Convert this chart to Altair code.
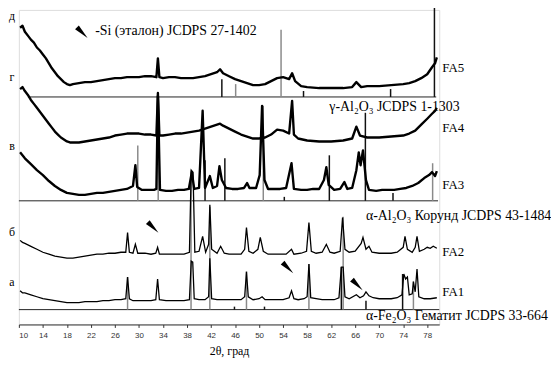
import altair as alt
import pandas as pd

# ---------------- data: diffraction traces (2θ, relative intensity) ----------------
fa5_theta = [10.2, 10.6, 11, 11.5, 12, 12.5, 13, 13.5, 14, 14.5, 15, 15.5, 16, 16.5, 17, 17.5, 18, 18.5, 19, 20,
             21, 22, 23, 24, 25, 26, 27, 28, 29, 30, 31, 32, 32.9, 33.15, 33.4, 34, 35, 36, 37, 38, 39, 40, 41, 42,
             43, 43.5, 44, 45, 46, 47, 48, 49, 50, 51, 52, 53, 54, 55, 55.5, 56, 57, 58, 60, 62, 64, 65.5, 66.2, 67,
             68, 70, 72, 74, 75, 76, 77, 78, 78.8, 79.3, 79.6]
fa5_int = [64, 66, 60, 56, 52, 49, 44, 41, 37, 33, 28, 23, 19, 15, 12, 9, 7, 6, 7, 8,
           9, 9, 10, 11, 12, 13, 13, 14, 14, 14, 15, 15, 14, 33, 14, 13, 14, 14, 13, 13, 13, 14, 15, 17,
           19, 22, 18, 15, 12, 10, 8, 6, 6, 7, 10, 13, 14, 12, 18, 10, 5, 4, 3, 3, 3, 4, 9, 4,
           5, 5, 6, 7, 8, 10, 13, 17, 24, 28, 34]

fa4_theta = [10.2, 10.6, 11, 11.5, 12, 12.5, 13, 13.5, 14, 14.5, 15, 15.5, 16, 16.5, 17, 17.5, 18, 18.5, 19, 20,
             21, 22, 23, 24, 25, 26, 27, 28, 29, 30, 31, 32, 32.9, 33.15, 33.4, 34, 35, 36, 37, 38, 39, 40, 41, 42,
             43, 43.5, 44, 45, 46, 47, 48, 49, 50, 51, 52, 53, 54, 55, 55.5, 55.8, 56.5, 58, 60, 62, 64, 65.5, 66.2,
             66.8, 68, 70, 72, 74, 75, 76, 77, 78, 78.8, 79.3, 79.6]
fa4_int = [57, 59, 55, 51, 46, 42, 38, 34, 30, 26, 22, 18, 14, 11, 8, 6, 4, 3, 3, 3,
           4, 5, 6, 7, 8, 10, 11, 12, 12, 12, 11, 11, 10, 53, 10, 10, 11, 12, 12, 13, 14, 15, 17, 19,
           21, 22, 20, 17, 14, 11, 9, 7, 7, 8, 11, 16, 15, 12, 45, 11, 7, 5, 4, 4, 5, 7, 19,
           10, 8, 8, 9, 10, 12, 15, 21, 27, 32, 35, 38]

fa3_theta = [10.2, 10.6, 11, 12, 13, 14, 15, 16, 17, 18, 19, 20, 21, 22, 23, 24, 25, 26, 27, 28, 29, 29.4, 29.7,
             30.5, 31.5, 32.5, 32.9, 33.15, 33.5, 34.5, 35.5, 36.5, 37.5, 38.3, 38.8, 39.2, 40, 40.6, 41, 41.8, 42.3,
             43, 43.4, 43.8, 44.5, 45.5, 46.5, 47.5, 48, 48.4, 49.5, 50.1, 50.5, 50.9, 51.5, 52.5, 53.5, 54.5, 55.4,
             55.8, 57, 58, 59, 60, 60.8, 61.2, 61.6, 62.5, 63.5, 64.2, 64.7, 65.5, 66.2, 66.6, 66.9, 67.3, 67.8, 68.3,
             69.5, 70.5, 71.5, 72.5, 73.5, 74.5, 75.5, 76.5, 77.5, 78.3, 78.8, 79.3, 79.6]
fa3_int = [45, 42, 39, 33, 27, 22, 16, 11, 7, 4, 3, 2, 2, 3, 4, 4, 5, 6, 7, 8, 11, 32, 10,
           7, 7, 7, 8, 102, 7, 6, 6, 7, 7, 8, 25, 8, 9, 87, 9, 21, 9,
           11, 31, 17, 9, 8, 8, 9, 14, 9, 9, 22, 92, 17, 8, 8, 8, 9, 34,
           8, 7, 7, 8, 8, 17, 30, 12, 7, 8, 15, 8, 9, 27, 45, 32, 47, 17, 7,
           6, 7, 7, 7, 8, 9, 11, 14, 19, 22, 25, 21, 26]

fa2_theta = [10.2, 10.6, 11, 12, 13, 14, 15, 16, 17, 18, 19, 20, 21, 22, 23, 24, 25, 26, 27, 27.8, 28.1, 28.4,
             29, 29.4, 29.8, 31, 32, 32.8, 33.1, 33.4, 34.5, 35.5, 36.5, 37.5, 38.4, 38.7, 39.0, 39.3, 40, 40.6,
             41.1, 41.6, 41.8, 42.1, 43, 43.6, 44.2, 45, 46, 47, 47.6, 47.9, 48.3, 49, 49.8, 50.2, 50.7, 51.5, 52.5,
             53.5, 54.5, 55.4, 55.8, 57, 57.9, 58.3, 58.7, 59.5, 60.5, 61.2, 61.8, 62.5, 63.5, 63.9, 64.3, 65, 66,
             67, 67.3, 67.8, 68.3, 68.8, 70, 71, 72, 73, 74, 74.3, 74.7, 75.5, 76.0, 76.3, 76.7, 77.5, 78, 78.5,
             79, 79.6]
fa2_int = [19, 17, 16, 13, 10, 7, 5, 3, 2, 1, 1, 2, 3, 4, 5, 5, 6, 6, 7, 7, 27, 7,
           6, 15, 6, 6, 5, 6, 12, 5, 5, 5, 5, 5, 7, 90, 88, 7, 8, 23,
           7, 15, 55, 10, 6, 13, 6, 5, 5, 5, 10, 32, 8, 6, 10, 22, 8, 5, 5,
           5, 5, 10, 5, 6, 8, 37, 8, 6, 7, 15, 7, 6, 8, 42, 10, 7, 8,
           16, 22, 10, 13, 7, 6, 6, 6, 7, 12, 23, 10, 7, 12, 23, 8, 10, 12, 11,
           13, 11]

fa1_theta = [10.2, 10.6, 11, 12, 13, 14, 15, 16, 17, 18, 19, 20, 21, 22, 23, 24, 25, 26, 27, 27.8, 28.1, 28.4,
             29, 30, 31, 32, 32.8, 33.1, 33.4, 34.5, 35.5, 36.5, 37.5, 38.4, 38.7, 38.95, 39.2, 40, 41, 41.6, 41.8,
             42.1, 43, 44, 45, 46, 47, 47.6, 47.9, 48.2, 49, 50, 50.5, 51, 52, 53, 54, 55, 55.4, 55.8, 56.5, 57.5,
             58, 58.3, 58.6, 59.5, 60.5, 61.5, 62.5, 63.3, 63.7, 64.0, 64.3, 65, 66.2, 66.8, 67.4, 67.8, 68.3, 69,
             70, 71, 72, 73, 73.8, 74.1, 74.4, 74.7, 75.0, 75.5, 75.7, 76.0, 76.3, 76.6, 77.5, 78.5, 79.6]
fa1_int = [14, 12, 12, 10, 8, 6, 5, 4, 3, 2, 2, 2, 3, 3, 3, 4, 4, 5, 5, 6, 28, 6,
           4, 4, 4, 4, 5, 26, 5, 4, 4, 4, 4, 5, 44, 43, 6, 5, 5, 8, 47,
           6, 5, 5, 5, 5, 5, 8, 33, 8, 5, 6, 8, 5, 5, 5, 5, 7, 14, 6, 5, 6,
           8, 41, 7, 6, 5, 5, 5, 7, 38, 38, 8, 6, 10, 7, 9, 13, 9, 7,
           6, 6, 6, 7, 10, 31, 26, 28, 10, 11, 23, 13, 36, 8, 6, 6, 7]

# ---------------- data: reference stick patterns (2θ, relative height, tone) ----------------
gamma_theta = [43.8, 46.1, 53.66, 57.4, 71.9, 79.2]
gamma_h = [18, 13, 68, 6, 8, 94]
gamma_tone = ["dark", "light", "light", "dark", "dark", "dark"]

corund_theta = [29.8, 33.2, 41.0, 44.3, 50.7, 54.2, 61.7, 67.7, 72.3, 78.9]
corund_h = [56, 81, 41, 43, 96, 4, 46, 89, 8, 38]
corund_tone = ["light", "light", "dark", "dark", "light", "dark", "dark", "dark", "dark", "light"]

hem_theta = [28.1, 38.67, 41.8, 45.9, 47.9, 50.9, 58.3, 63.7, 64.0, 67.8, 73.9, 75.7]
hem_h = [33, 141, 104, 3, 39, 3, 46, 43, 94, 9, 36, 29]
hem_tone = ["light", "light", "light", "dark", "light", "dark", "light", "dark", "light", "dark", "dark", "light"]

sample_names = ["FA5", "FA4", "FA3", "FA2", "FA1"]
sample_letters = ["д", "г", "в", "б", "а"]
x_ticks = list(range(10, 79, 4))

# ---------------- layout (vertical stacking in plot units) ----------------
trace_shift = {"FA5": 278, "FA4": 223, "FA3": 171, "FA2": 108, "FA1": 62}
noisy = {"FA5", "FA4", "FA3"}

rows = []
for name, th, it in [("FA5", fa5_theta, fa5_int), ("FA4", fa4_theta, fa4_int), ("FA3", fa3_theta, fa3_int),
                     ("FA2", fa2_theta, fa2_int), ("FA1", fa1_theta, fa1_int)]:
    for t, v in zip(th, it):
        rows.append({"theta": t, "y": v + trace_shift[name], "trace": name,
                     "noisy": name in noisy})
df = pd.DataFrame(rows)

stick_rows = []
for base, th, hh, tone in [(272, gamma_theta, gamma_h, gamma_tone),
                           (167, corund_theta, corund_h, corund_tone),
                           (57, hem_theta, hem_h, hem_tone)]:
    for t, h, c in zip(th, hh, tone):
        stick_rows.append({"theta": t, "y": base, "y2": base + h, "tone": c})
sticks = pd.DataFrame(stick_rows)

baselines = pd.DataFrame({"x": [11.5, 10, 10], "x2": [79.5, 79.8, 80], "y": [272, 167, 57]})

XS = alt.Scale(domain=[10, 80], nice=False, zero=False)
YS = alt.Scale(domain=[42, 360], nice=False, zero=False)


def xenc(field="theta"):
    return alt.X(f"{field}:Q", scale=XS,
                 axis=alt.Axis(values=x_ticks, title="2θ, град", labelFont="Liberation Sans",
                               labelFontSize=8, labelColor="#333", tickSize=3, tickColor="#333",
                               domainColor="#333", grid=False, titleFont="Liberation Serif",
                               titleFontSize=12, titleFontWeight="normal", titleColor="black",
                               titlePadding=6, labelPadding=4))


def yenc(field="y"):
    return alt.Y(f"{field}:Q", scale=YS, axis=None)


lines_noisy = alt.Chart(df[df.noisy]).mark_line(color="black", strokeWidth=2.4,
                                                 strokeJoin="round").encode(
    x=xenc(), y=yenc(), detail="trace:N")
lines_clean = alt.Chart(df[~df.noisy]).mark_line(color="black", strokeWidth=1.3).encode(
    x=xenc(), y=yenc(), detail="trace:N")

stick_layer = alt.Chart(sticks).mark_rule(strokeWidth=1.5).encode(
    x=xenc(), y=yenc(), y2="y2:Q",
    color=alt.Color("tone:N", scale=alt.Scale(domain=["dark", "light"], range=["#111111", "#8a8a8a"]),
                    legend=None))

base_layer = alt.Chart(baselines).mark_rule(color="#222", strokeWidth=1).encode(
    x=xenc("x"), x2="x2:Q", y=yenc())

# wedge markers (Si reference)
wedges = pd.DataFrame({"theta": [20.4, 32.2, 54.65, 66.2], "y": [338, 141, 100, 83]})
wedge_layer = alt.Chart(wedges).mark_point(
    shape="M -1 -0.4 L -0.4 -1 L 1 1 Z", filled=True, color="black", size=160, opacity=1,
    strokeWidth=0).encode(x=xenc(), y=yenc())

# texts
letters = pd.DataFrame({"theta": [8.85] * 5, "y": [354, 292, 222, 135, 85], "t": sample_letters})
letter_layer = alt.Chart(letters).mark_text(font="Liberation Serif", fontSize=12, align="center",
                                            baseline="middle", color="black").encode(
    x=xenc(), y=yenc(), text="t:N")

names = pd.DataFrame({"theta": [80.5] * 5, "y": [301, 241, 183, 115, 75], "t": sample_names})
name_layer = alt.Chart(names).mark_text(font="Liberation Serif", fontSize=13, align="left",
                                        baseline="middle", color="black").encode(
    x=xenc(), y=yenc(), text="t:N")

refs = pd.DataFrame({
    "theta": [22.7, 61.7, 67.8, 67.8],
    "y": [339, 262, 152, 50],
    "t": ["-Si (эталон) JCDPS 27-1402", "γ-Al₂O₃ JCDPS 1-1303",
          "α-Al₂O₃ Корунд JCDPS 43-1484", "α-Fe₂O₃ Гематит JCDPS 33-664"]})
ref_layer = alt.Chart(refs).mark_text(font="Liberation Serif", fontSize=14, align="left",
                                      baseline="middle", color="black").encode(
    x=xenc(), y=yenc(), text="t:N")

chart = alt.layer(base_layer, stick_layer, lines_noisy, lines_clean, wedge_layer,
                  letter_layer, name_layer, ref_layer).properties(
    width=425, height=318,
    autosize=alt.AutoSizeParams(type="none"),
    padding={"left": 11, "top": 0, "right": 113, "bottom": 34},
).configure_view(stroke=None).configure(background="white")

chart.save("out.html", embed_options={"renderer": "svg", "actions": False})
